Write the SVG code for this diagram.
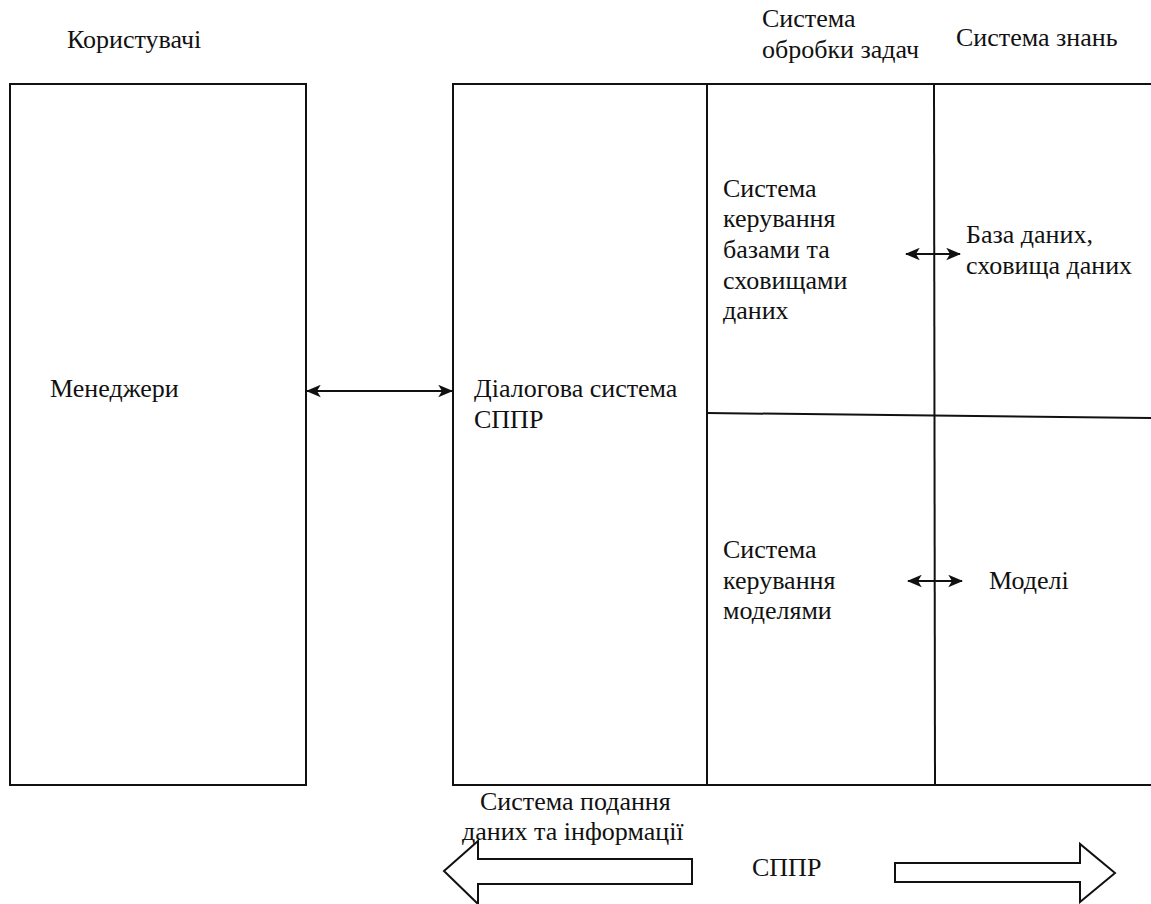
<svg xmlns="http://www.w3.org/2000/svg" width="1151" height="904" viewBox="0 0 1151 904">
  <style>
    text { font-family: "Liberation Serif", "DejaVu Serif", "Times New Roman", serif; font-size: 26px; fill: #111111; }
    .ln { stroke: #111111; stroke-width: 2; fill: none; }
    .big { stroke: #111111; stroke-width: 2; fill: #ffffff; stroke-linejoin: miter; }
  </style>
  <defs>
    <marker id="head" viewBox="0 0 12 10" refX="11" refY="5" markerWidth="7.5" markerHeight="6.5" orient="auto-start-reverse" markerUnits="strokeWidth">
      <path d="M0,0 L12,5 L0,10 L3,5 z" fill="#111111"/>
    </marker>
  </defs>

  <rect width="1151" height="904" fill="#ffffff"/>

  <!-- column headings -->
  <g id="headings">
    <text x="67" y="48">Користувачі</text>
    <text x="762" y="27">Система</text>
    <text x="762" y="58">обробки задач</text>
    <text x="956" y="46">Система знань</text>
  </g>

  <!-- users block -->
  <g id="managers">
    <rect class="ln" x="10" y="84" width="296" height="701"/>
    <text x="50" y="397">Менеджери</text>
  </g>

  <!-- DSS frame -->
  <g id="dss-frame">
    <path class="ln" d="M1151,84 L453,84 L453,785 L1151,785"/>
  </g>

  <g id="dialog-system">
    <text x="474" y="397">Діалогова система</text>
    <text x="474" y="428">СППР</text>
  </g>

  <g id="processing-column">
    <line class="ln" x1="707" y1="84" x2="707" y2="785"/>
  </g>

  <g id="knowledge-column">
    <line class="ln" x1="934" y1="84" x2="935" y2="785"/>
    <line class="ln" x1="707" y1="413" x2="1151" y2="418"/>
  </g>

  <g id="dbms">
    <text x="723" y="197">Система</text>
    <text x="723" y="227">керування</text>
    <text x="723" y="258">базами та</text>
    <text x="723" y="289">сховищами</text>
    <text x="723" y="319">даних</text>
  </g>

  <g id="database">
    <text x="966" y="243">База даних,</text>
    <text x="966" y="274">сховища даних</text>
  </g>

  <g id="model-management">
    <text x="723" y="558">Система</text>
    <text x="723" y="589">керування</text>
    <text x="723" y="619">моделями</text>
  </g>

  <g id="models">
    <text x="989" y="589">Моделі</text>
  </g>

  <g id="presentation">
    <text x="480" y="810">Система подання</text>
    <text x="462" y="840">даних та інформації</text>
  </g>

  <g id="dss-label">
    <text x="752" y="876">СППР</text>
  </g>

  <!-- connectors -->
  <g id="connectors">
    <line class="ln" x1="307" y1="391" x2="452" y2="391" marker-start="url(#head)" marker-end="url(#head)"/>
    <line class="ln" x1="906" y1="254" x2="960" y2="254" marker-start="url(#head)" marker-end="url(#head)"/>
    <line class="ln" x1="908" y1="581" x2="962" y2="581" marker-start="url(#head)" marker-end="url(#head)"/>
    <polygon class="big" points="444,871 478,841 478,859 692,859 692,884 478,884 478,904"/>
    <polygon class="big" points="1115,873 1080,844 1080,863 895,863 895,882 1080,882 1080,902"/>
  </g>
</svg>
